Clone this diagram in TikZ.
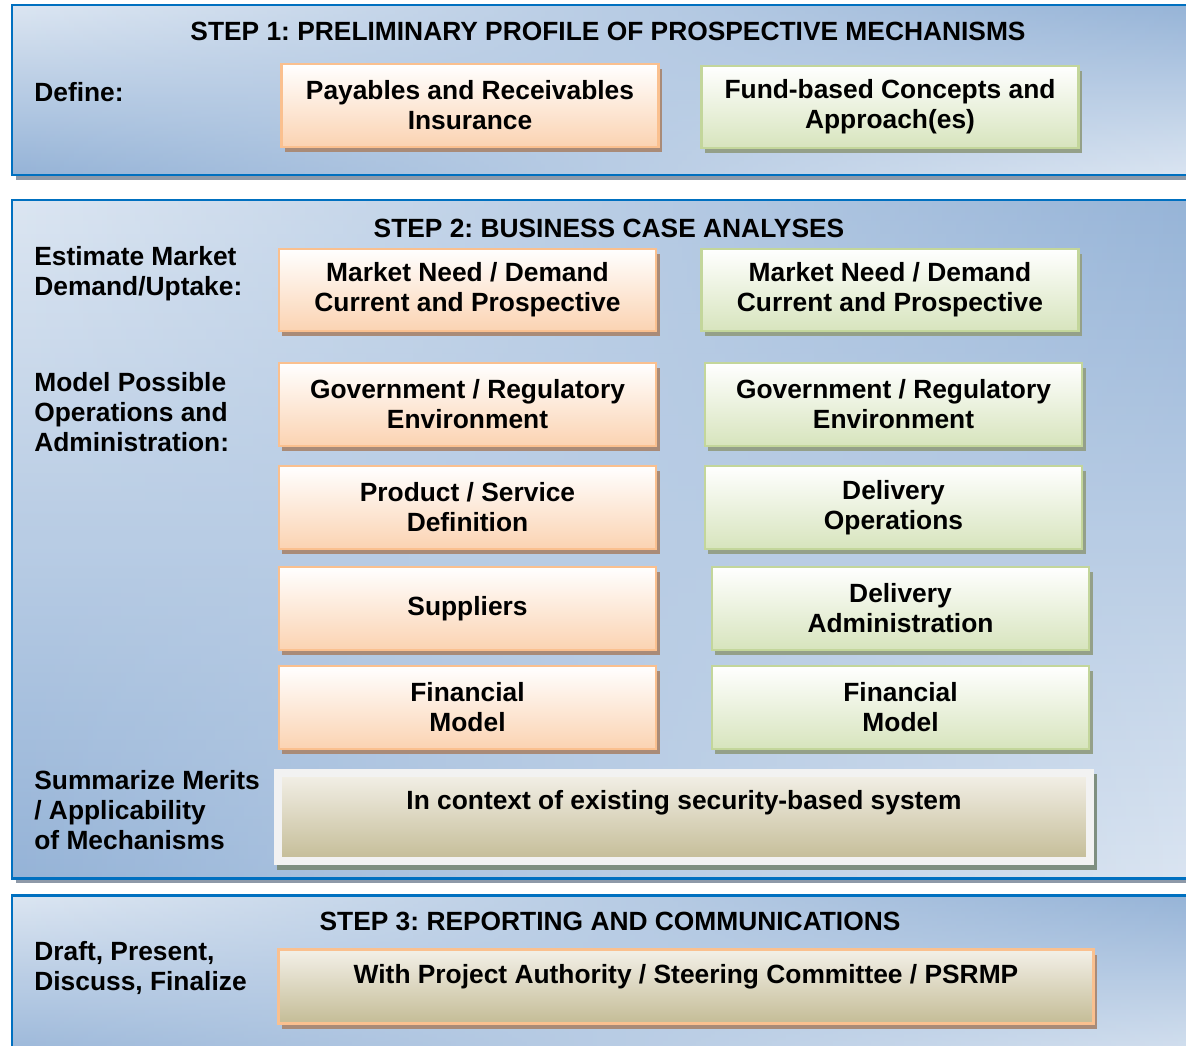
\documentclass[tikz,border=0pt]{standalone}
\usepackage{fontspec}
\setmainfont{Liberation Sans}
\usetikzlibrary{shadows, fadings}
\frenchspacing
\definecolor{panelblue}{HTML}{0070C0}
\definecolor{panellight}{HTML}{DCE6F2}
\definecolor{paneldark}{HTML}{95B3D7}
\definecolor{panelshadow}{HTML}{8E99A8}
\definecolor{orangeline}{HTML}{FAC08F}
\definecolor{orangefill}{HTML}{FBD3B2}
\definecolor{orangeshadow}{HTML}{A98B78}
\definecolor{greenline}{HTML}{C3D69B}
\definecolor{greenfill}{HTML}{D7E4BD}
\definecolor{greenshadow}{HTML}{94A089}
\definecolor{tanlight}{HTML}{F3F0E8}
\definecolor{tandark}{HTML}{C4BC96}
\definecolor{tanframe}{HTML}{F2F2F2}
\definecolor{tanshadow}{HTML}{7F8F80}

\begin{document}
\begin{tikzpicture}[
    x=0.02cm, y=-0.02cm,
    font=\fontsize{15}{17}\selectfont\bfseries,
    steptitle/.style={inner sep=0pt},
    sidelabel/.style={anchor=west, align=left, inner sep=0pt},
    orangebox/.style={draw=orangeline, line width=1.4pt, top color=white, bottom color=orangefill,
        minimum width=7.55cm, minimum height=1.65cm, align=center,
        general shadow={fill=orangeshadow, shadow xshift=0.07cm, shadow yshift=-0.1cm}},
    greenbox/.style={orangebox, draw=greenline, bottom color=greenfill,
        general shadow={fill=greenshadow, shadow xshift=0.07cm, shadow yshift=-0.1cm}},
    tanbox/.style={top color=tanlight, bottom color=tandark, align=center,
        text height=0.34cm}
]
    \useasboundingbox (0,0) rectangle (1186,1045);

    % three step panels
    \foreach \top/\bot in {5/175, 200/878, 895/1070} {
        \fill[panelshadow] (16,\top+5) rectangle (1210,\bot+5);
        \shade[top color=panellight, bottom color=paneldark] (12,\top) rectangle (1210,\bot);
        \shade[top color=paneldark, bottom color=panellight, path fading=west] (12,\top) rectangle (1210,\bot);
        \draw[panelblue, line width=1.7pt] (12,\top) rectangle (1210,\bot);
    }

    % step 1
    \node[steptitle] (t1) at (608,31) {STEP 1: PRELIMINARY PROFILE OF PROSPECTIVE MECHANISMS};
    \node[sidelabel] (define) at (34,92) {Define:};
    \node[orangebox] (payrec) at (470,105.5) {Payables and Receivables\\Insurance};
    \node[greenbox] (fund) at (890,107) {Fund-based Concepts and\\Approach(es)};

    % step 2
    \node[steptitle] (t2) at (609,228) {STEP 2: BUSINESS CASE ANALYSES};
    \node[sidelabel] (estimate) at (34,273.5) {Estimate Market\\Demand/Uptake:};
    \node[sidelabel] (model) at (34,412) {Model Possible\\Operations and\\Administration:};
    \node[sidelabel] (summarize) at (34,810) {Summarize Merits\\/ Applicability\\of Mechanisms};

    \node[orangebox] (needA) at (467.5,290) {Market Need / Demand\\Current and Prospective};
    \node[orangebox] (govA) at (467.5,404.5) {Government / Regulatory\\Environment};
    \node[orangebox] (prod) at (467.5,507.5) {Product / Service\\Definition};
    \node[orangebox] (supp) at (467.5,608.5) {Suppliers};
    \node[orangebox] (finA) at (467.5,707.5) {Financial\\Model};

    \node[greenbox] (needB) at (890,290) {Market Need / Demand\\Current and Prospective};
    \node[greenbox] (govB) at (893.5,404.5) {Government / Regulatory\\Environment};
    \node[greenbox] (delop) at (893.5,507.5) {Delivery\\Operations};
    \node[greenbox] (deladm) at (900.5,608.5) {Delivery\\Administration};
    \node[greenbox] (finB) at (900.5,707.5) {Financial\\Model};

    \node[tanbox, draw=tanframe, line width=0.16cm, minimum width=16.24cm, minimum height=1.76cm,
        text depth=0.66cm,
        general shadow={fill=tanshadow, draw=tanshadow, line width=0.16cm,
            shadow xshift=0.06cm, shadow yshift=-0.1cm}]
        (context) at (684,817) {In context of existing security-based system};

    % step 3
    \node[steptitle] (t3) at (610,921) {STEP 3: REPORTING AND COMMUNICATIONS};
    \node[sidelabel] (draft) at (34,968) {Draft, Present,\\Discuss, Finalize};
    \node[tanbox, draw=orangeline, line width=1.4pt, minimum width=16.3cm, minimum height=1.48cm,
        text depth=0.48cm,
        general shadow={fill=orangeshadow, shadow xshift=0.07cm, shadow yshift=-0.1cm}]
        (report) at (686,986.5) {With Project Authority / Steering Committee / PSRMP};
\end{tikzpicture}
\end{document}
